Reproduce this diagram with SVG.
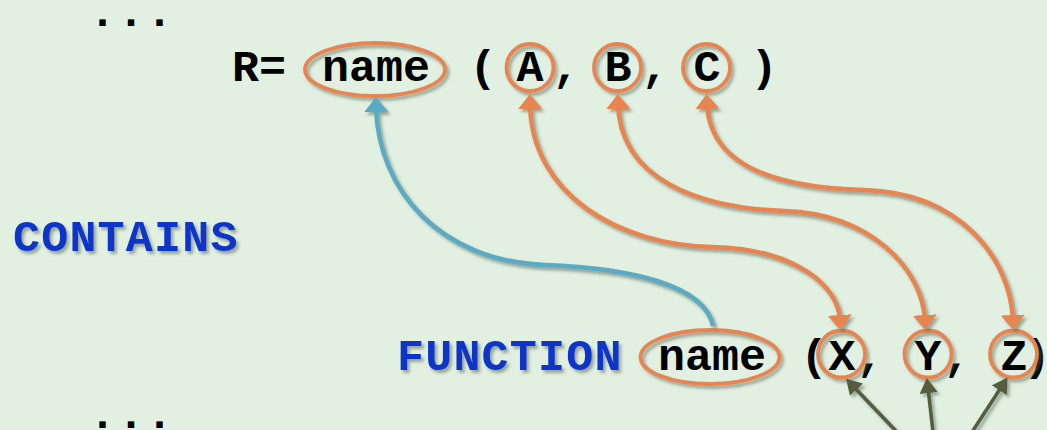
<svg xmlns="http://www.w3.org/2000/svg" width="1047" height="430" viewBox="0 0 1047 430">
<defs>
<style>
.code{font-family:"Courier New","Liberation Mono",monospace;font-weight:bold;font-size:45px;fill:#000}
.kw{font-family:"Courier New","Liberation Mono",monospace;font-weight:bold;font-size:45px;fill:#0a36c9}
.ring{fill:none;stroke:#e8844f;stroke-width:3.8}
.orange{fill:none;stroke:#e8844f;stroke-width:4.5}
.blue{fill:none;stroke:#5aaac4;stroke-width:4.5}
.olive{fill:none;stroke:#575b3e;stroke-width:3.5}
</style>
<filter id="sh" x="-20%" y="-20%" width="140%" height="140%">
<feDropShadow dx="2.5" dy="3" stdDeviation="1.8" flood-color="#5a6a5a" flood-opacity="0.55"/>
</filter>
<marker id="mo" viewBox="0 0 15 24" markerWidth="15" markerHeight="24" refX="5" refY="12" orient="auto-start-reverse" markerUnits="userSpaceOnUse">
<path d="M0,0 L15,12 L0,24 z" fill="#e8844f"/>
</marker>
<marker id="mb" viewBox="0 0 15 24" markerWidth="15" markerHeight="24" refX="5" refY="12" orient="auto-start-reverse" markerUnits="userSpaceOnUse">
<path d="M0,0 L15,12 L0,24 z" fill="#5aaac4"/>
</marker>
<marker id="mg" viewBox="0 0 15 18" markerWidth="15" markerHeight="18" refX="5" refY="9" orient="auto" markerUnits="userSpaceOnUse">
<path d="M0,0 L15,9 L0,18 z" fill="#575b3e"/>
</marker>
</defs>
<rect width="1047" height="430" fill="#e1f0e1"/>

<g id="dots-top"><text class="code" x="89" y="26" letter-spacing="1.5">...</text></g>
<g id="dots-bottom"><text class="code" x="89" y="428" letter-spacing="1.5">...</text></g>

<g id="call">
<text class="code" x="232" y="81">R=</text>
<text class="code" x="483" y="81" text-anchor="middle">(</text>
<text class="code" x="566" y="81" text-anchor="middle">,</text>
<text class="code" x="655" y="81" text-anchor="middle">,</text>
<text class="code" x="764" y="81" text-anchor="middle">)</text>
</g>
<g id="call-name"><ellipse class="ring" cx="375" cy="69.5" rx="70" ry="26.5" filter="url(#sh)"/><text class="code" x="376" y="81" text-anchor="middle">name</text></g>
<g id="arg-A"><circle class="ring" cx="530" cy="67.5" r="23.5" filter="url(#sh)"/><text class="code" x="530" y="81" text-anchor="middle">A</text></g>
<g id="arg-B"><circle class="ring" cx="617.5" cy="67.5" r="23.5" filter="url(#sh)"/><text class="code" x="618" y="81" text-anchor="middle">B</text></g>
<g id="arg-C"><circle class="ring" cx="706.5" cy="67.5" r="23.5" filter="url(#sh)"/><text class="code" x="707" y="81" text-anchor="middle">C</text></g>

<g id="contains"><text class="kw" x="13" y="251" letter-spacing="1.2" filter="url(#sh)">CONTAINS</text></g>

<g id="function">
<text class="kw" x="397" y="370" letter-spacing="1.2" filter="url(#sh)">FUNCTION</text>
<text class="code" x="814" y="370" text-anchor="middle">(</text>
<text class="code" x="870" y="370" text-anchor="middle">,</text>
<text class="code" x="957" y="370" text-anchor="middle">,</text>
<text class="code" x="1037" y="370" text-anchor="middle">)</text>
</g>
<g id="func-name"><ellipse class="ring" cx="710" cy="357" rx="69.5" ry="27" filter="url(#sh)"/><text class="code" x="712" y="370" text-anchor="middle">name</text></g>
<g id="param-X"><circle class="ring" cx="841.5" cy="354" r="23.5" filter="url(#sh)"/><text class="code" x="842" y="370" text-anchor="middle">X</text></g>
<g id="param-Y"><circle class="ring" cx="928" cy="354" r="23.5" filter="url(#sh)"/><text class="code" x="928" y="370" text-anchor="middle">Y</text></g>
<g id="param-Z"><circle class="ring" cx="1013.5" cy="354" r="23.5" filter="url(#sh)"/><text class="code" x="1014" y="370" text-anchor="middle">Z</text></g>

<g id="connectors" filter="url(#sh)">
<path class="blue" d="M713,326 C705,285 630,268 545,265 C440,261 378,190 376,107" marker-end="url(#mb)"/>
<path class="orange" d="M530,104 C531,195 620,245 712,247 C795,249 838,285 840,320" marker-start="url(#mo)" marker-end="url(#mo)"/>
<path class="orange" d="M618,104 C620,180 700,208 785,211 C870,214 922,268 925,320" marker-start="url(#mo)" marker-end="url(#mo)"/>
<path class="orange" d="M707,104 C710,168 780,188 865,190 C960,193 1010,258 1013,320" marker-start="url(#mo)" marker-end="url(#mo)"/>
<path class="olive" d="M897,432 L853,386" marker-end="url(#mg)"/>
<path class="olive" d="M933,432 L928,388" marker-end="url(#mg)"/>
<path class="olive" d="M972,432 L1002,386" marker-end="url(#mg)"/>
</g>
</svg>
